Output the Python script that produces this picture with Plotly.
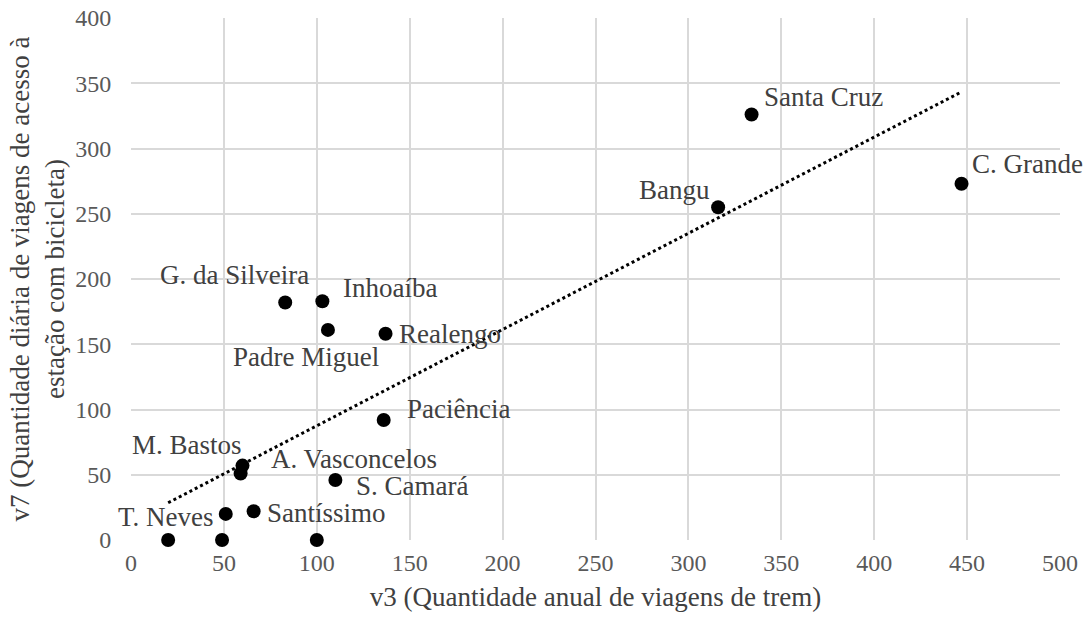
import numpy as np
import plotly.graph_objects as go

# Data
stations = ["T. Neves*", "Sem rótulo 1", "Sem rótulo 2", "T. Neves", "Santíssimo", "M. Bastos",
            "A. Vasconcelos", "S. Camará", "Paciência", "Realengo", "Padre Miguel", "Inhoaíba",
            "G. da Silveira", "Santa Cruz", "Bangu", "C. Grande"]
labels = ["", "", "", "T. Neves", "Santíssimo", "M. Bastos", "A. Vasconcelos", "S. Camará",
          "Paciência", "Realengo", "Padre Miguel", "Inhoaíba", "G. da Silveira", "Santa Cruz",
          "Bangu", "C. Grande"]
v3 = [20, 49, 100, 51, 66, 60, 59, 110, 136, 137, 106, 103, 83, 334, 316, 447]
v7 = [0, 0, 0, 20, 22, 57, 51, 46, 92, 158, 161, 183, 182, 326, 255, 273]

x_ticks = [0, 50, 100, 150, 200, 250, 300, 350, 400, 450, 500]
y_ticks = [0, 50, 100, 150, 200, 250, 300, 350, 400]

# label placement (style): xanchor, xshift, yshift
label_style = {
    "T. Neves": ("right", -11, -3),
    "Santíssimo": ("left", 11, -2),
    "M. Bastos": ("right", 2, 21),
    "A. Vasconcelos": ("left", 28, 14),
    "S. Camará": ("left", 19, -6),
    "Paciência": ("left", 21, 11),
    "Realengo": ("left", 11, 0),
    "Padre Miguel": ("center", -22, -27),
    "Inhoaíba": ("left", 19, 13),
    "G. da Silveira": ("center", -51, 27),
    "Santa Cruz": ("left", 10, 18),
    "Bangu": ("right", -6, 17),
    "C. Grande": ("left", 8, 20),
}

FONT = "Liberation Serif, Times New Roman, serif"

fig = go.Figure()

# linear trendline (OLS) from the data
xa = np.array(v3, dtype=float)
ya = np.array(v7, dtype=float)
m, b = np.polyfit(xa, ya, 1)
xt = np.array([xa.min(), xa.max()])
fig.add_trace(go.Scatter(x=xt, y=m * xt + b, mode="lines",
                         line=dict(color="black", width=3, dash="dot"),
                         hoverinfo="skip", showlegend=False, cliponaxis=False))

fig.add_trace(go.Scatter(x=v3, y=v7, mode="markers",
                         marker=dict(color="black", size=14),
                         text=stations, showlegend=False, cliponaxis=False))

for xv, yv, lab in zip(v3, v7, labels):
    if not lab:
        continue
    anc, xs, ys = label_style[lab]
    fig.add_annotation(x=xv, y=yv, text=lab, showarrow=False, xanchor=anc, yanchor="middle",
                       xshift=xs, yshift=ys,
                       font=dict(family=FONT, size=27, color="#404040"))

fig.update_layout(
    width=1083, height=623,
    margin=dict(l=131, r=23, t=18, b=83),
    paper_bgcolor="white", plot_bgcolor="white",
    font=dict(family=FONT, color="#595959"),
    xaxis=dict(range=[0, 500], tickvals=x_ticks, showgrid=True, gridcolor="#d9d9d9",
               gridwidth=1.5, zeroline=False, showline=False, automargin=False,
               tickfont=dict(size=24, color="#595959"), ticks="outside", ticklen=1,
               tickcolor="rgba(0,0,0,0)", ticklabeloverflow="allow",
               title=dict(text="v3 (Quantidade anual de viagens de trem)",
                          font=dict(size=27, color="#404040"), standoff=12)),
    yaxis=dict(range=[0, 400], tickvals=y_ticks, showgrid=True, gridcolor="#d9d9d9",
               gridwidth=1.5, zeroline=False, showline=False, automargin=False,
               tickfont=dict(size=24, color="#595959"), ticks="outside", ticklen=14,
               tickcolor="rgba(0,0,0,0)", ticklabeloverflow="allow",
               title=dict(text="v7 (Quantidade diária de viagens de acesso à<br>estação com bicicleta)",
                          font=dict(size=27, color="#404040"), standoff=2)),
)

# remove the default page margin so the figure fills the window exactly
fig.write_html("out.html", config={"displayModeBar": False},
               post_script="document.body.style.margin='0';")
